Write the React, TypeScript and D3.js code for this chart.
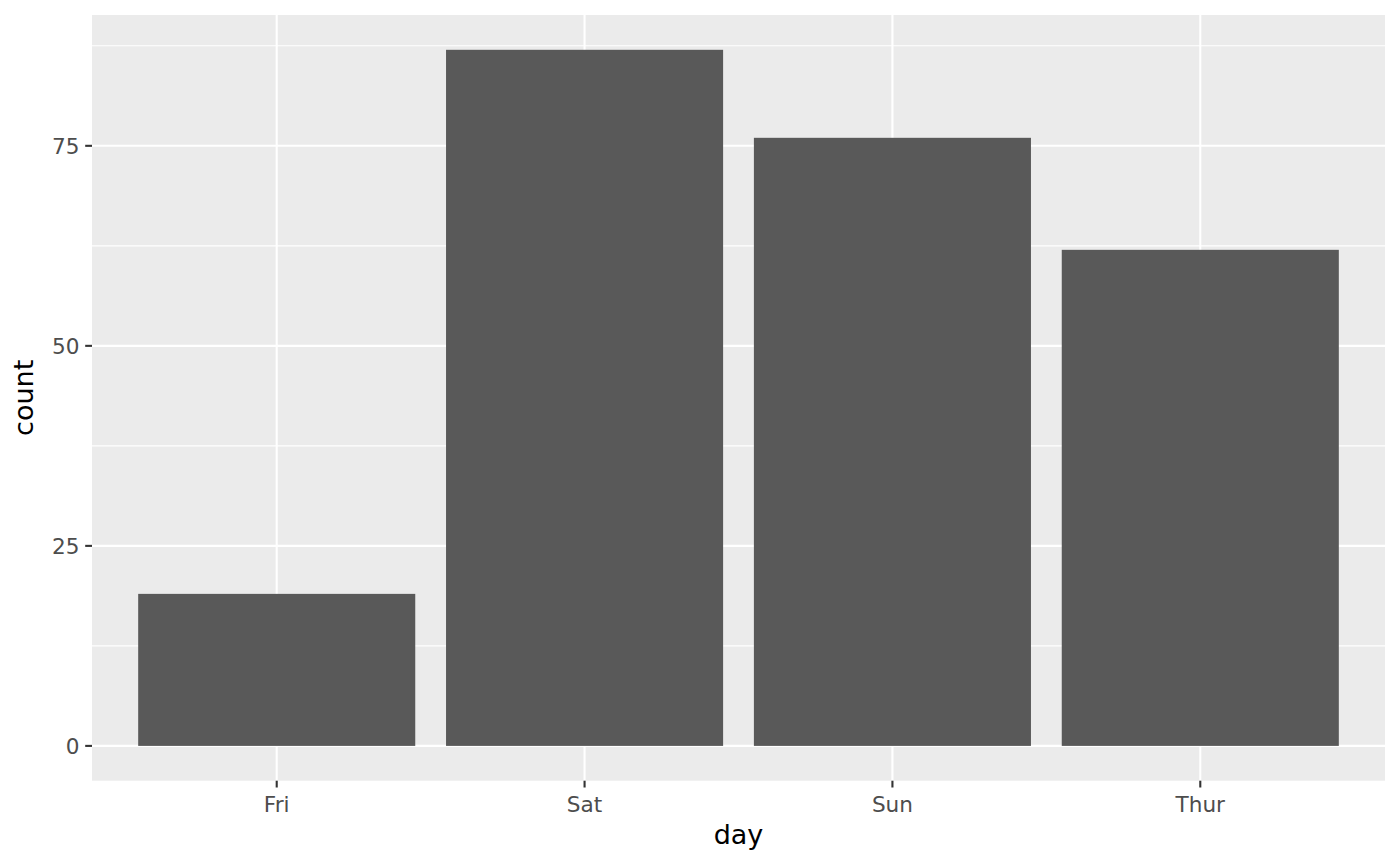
import React from "react";
import * as d3 from "d3";

const days = ["Fri", "Sat", "Sun", "Thur"];
const counts = [19, 87, 76, 62];
const yTicks = [0, 25, 50, 75];
const yMinor = [12.5, 37.5, 62.5, 87.5];

const W = 1400;
const H = 865;
const left = 92;
const right = 1385;
const top = 15;
const bottom = 780.7;

export default function App() {
  const maxV = d3.max(counts) as number;
  const pad = maxV * 0.05;
  const y = d3.scaleLinear().domain([-pad, maxV + pad]).range([bottom, top]);
  const x = d3
    .scaleLinear()
    .domain([0.4, days.length + 0.6])
    .range([left, right]);
  const cx = (i: number) => x(i + 1);
  const bw = x(0.9) - x(0);
  const font = "'DejaVu Sans', sans-serif";
  return (
    <svg
      width={W}
      height={H}
      style={{ position: "absolute", left: 0, top: 0, background: "#fff" }}
    >
      <rect x={left} y={top} width={right - left} height={bottom - top} fill="#EBEBEB" />
      {yMinor.map((v) => (
        <line key={"m" + v} x1={left} x2={right} y1={y(v)} y2={y(v)} stroke="#fff" strokeWidth={1.1} />
      ))}
      {yTicks.map((v) => (
        <line key={"g" + v} x1={left} x2={right} y1={y(v)} y2={y(v)} stroke="#fff" strokeWidth={2.1} />
      ))}
      {days.map((d, i) => (
        <line key={"v" + d} x1={cx(i)} x2={cx(i)} y1={top} y2={bottom} stroke="#fff" strokeWidth={2.1} />
      ))}
      {days.map((d, i) => (
        <rect
          key={"b" + d}
          x={cx(i) - bw / 2}
          y={y(counts[i])}
          width={bw}
          height={y(0) - y(counts[i])}
          fill="#595959"
        />
      ))}
      {yTicks.map((v) => (
        <g key={"t" + v}>
          <line x1={left - 6.8} x2={left} y1={y(v)} y2={y(v)} stroke="#333" strokeWidth={2.1} />
          <text
            x={left - 12.5}
            y={y(v)}
            dy="0.36em"
            textAnchor="end"
            fontFamily={font}
            fontSize={21.6}
            fill="#4D4D4D"
          >
            {v}
          </text>
        </g>
      ))}
      {days.map((d, i) => (
        <g key={"xt" + d}>
          <line x1={cx(i)} x2={cx(i)} y1={bottom} y2={bottom + 6.8} stroke="#333" strokeWidth={2.1} />
          <text x={cx(i)} y={812} textAnchor="middle" fontFamily={font} fontSize={21.6} fill="#4D4D4D">
            {d}
          </text>
        </g>
      ))}
      <text x={(left + right) / 2} y={844} textAnchor="middle" fontFamily={font} fontSize={27} fill="#000">
        day
      </text>
      <text
        transform={`translate(33,${(top + bottom) / 2}) rotate(-90)`}
        textAnchor="middle"
        fontFamily={font}
        fontSize={27}
        fill="#000"
      >
        count
      </text>
    </svg>
  );
}
